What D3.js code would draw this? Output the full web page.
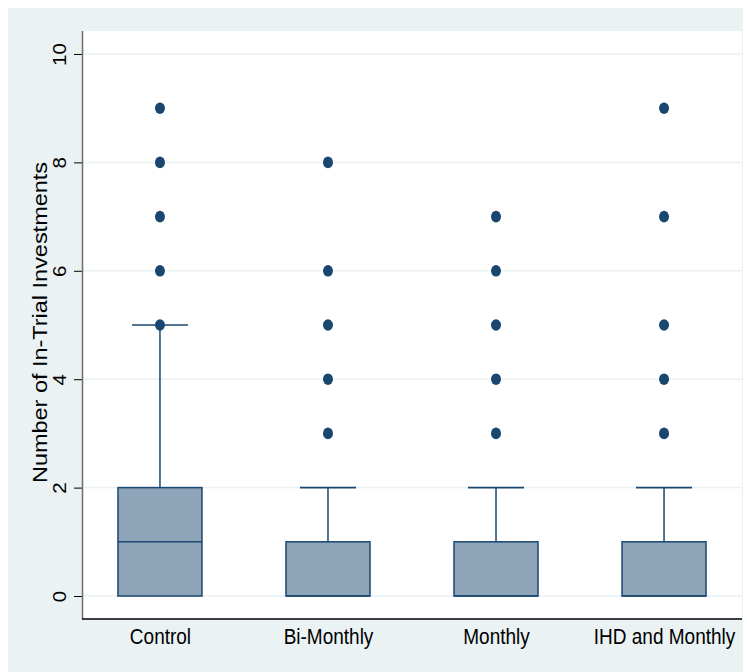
<!DOCTYPE html>
<html>
<head>
<meta charset="utf-8">
<script src="https://cdnjs.cloudflare.com/ajax/libs/d3/7.8.5/d3.min.js"></script>
<style>
  html, body { margin: 0; padding: 0; background: #ffffff; }
  svg { display: block; }
  text { font-family: "Liberation Sans", Arial, sans-serif; fill: #000; }
</style>
</head>
<body>
<svg id="chart" width="747" height="672"></svg>
<script>
// ---- data ----
const categories = ["Control", "Bi-Monthly", "Monthly", "IHD and Monthly"];
const q1Values = [0, 0, 0, 0];
const medianValues = [1, 0, 0, 0];
const q3Values = [2, 1, 1, 1];
const lowerWhisker = [0, 0, 0, 0];
const upperWhisker = [5, 2, 2, 2];
const outliers = [
  [5, 6, 7, 8, 9],
  [3, 4, 5, 6, 8],
  [3, 4, 5, 6, 7],
  [3, 4, 5, 7, 9]
];
const yTicks = [0, 2, 4, 6, 8, 10];
const yTitle = "Number of In-Trial Investments";

// ---- layout ----
const svg = d3.select("#chart");
const plot = { left: 82, right: 742, top: 31, bottom: 619 };
const navy = "#1a476f";
const boxFill = "#8ea4b9";
const bg = "#eaf2f3";

svg.append("rect").attr("x", 8).attr("y", 8).attr("width", 735).attr("height", 664).attr("fill", bg);
svg.append("rect").attr("x", plot.left).attr("y", plot.top)
  .attr("width", plot.right - plot.left).attr("height", plot.bottom - plot.top).attr("fill", "#fff");

const x = d3.scalePoint().domain(categories).range([plot.left, plot.right]).padding(0.464);
const y = d3.scaleLinear().domain([-0.424, 10.424]).range([plot.bottom, plot.top]);

// grid
svg.append("g").selectAll("line").data(yTicks).join("line")
  .attr("x1", plot.left).attr("x2", plot.right)
  .attr("y1", d => y(d)).attr("y2", d => y(d))
  .attr("stroke", bg).attr("stroke-width", 1.5);

// y axis
const yAxis = svg.append("g").attr("transform", `translate(${plot.left},0)`)
  .call(d3.axisLeft(y).tickValues(yTicks).tickSize(8).tickPadding(10).tickFormat(d3.format("d")));
yAxis.select(".domain").remove();
yAxis.selectAll(".tick line").attr("stroke", "#000").attr("stroke-width", 1);
yAxis.selectAll(".tick text")
  .attr("x", null).attr("dy", null)
  .attr("transform", "translate(-16,0) rotate(-90) scale(1.08,1)")
  .attr("text-anchor", "middle")
  .style("font-size", "19px")
  .style("font-family", "'Liberation Sans', Arial, sans-serif");
svg.append("line").attr("x1", plot.left + 0.5).attr("x2", plot.left + 0.5)
  .attr("y1", plot.top).attr("y2", plot.bottom).attr("stroke", "#6e6e6e").attr("stroke-width", 1.5);

// x axis
const xAxis = svg.append("g").attr("transform", `translate(0,${plot.bottom})`)
  .call(d3.axisBottom(x).tickSize(0).tickPadding(0));
xAxis.select(".domain").remove();
xAxis.selectAll(".tick text")
  .attr("y", null).attr("dy", null)
  .attr("transform", "translate(0,25) scale(1,1.15)")
  .style("font-size", "19px")
  .style("font-family", "'Liberation Sans', Arial, sans-serif");
svg.append("line").attr("x1", plot.left).attr("x2", plot.right)
  .attr("y1", plot.bottom).attr("y2", plot.bottom).attr("stroke", "#000").attr("stroke-width", 1.5);

// y title
svg.append("text")
  .attr("transform", `translate(47,${(162 + 483) / 2}) rotate(-90)`)
  .attr("text-anchor", "middle")
  .attr("textLength", 321).attr("lengthAdjust", "spacingAndGlyphs")
  .style("font-size", "20px")
  .text(yTitle);

// boxes
const boxW = 84, capW = 56;
const data = categories.map((c, i) => ({
  c, q1: q1Values[i], med: medianValues[i], q3: q3Values[i],
  lo: lowerWhisker[i], hi: upperWhisker[i], out: outliers[i]
}));
const g = svg.append("g");
data.forEach(d => {
  const cx = x(d.c);
  g.append("line").attr("x1", cx).attr("x2", cx).attr("y1", y(d.q3)).attr("y2", y(d.hi))
    .attr("stroke", navy).attr("stroke-width", 1.5);
  g.append("line").attr("x1", cx - capW / 2).attr("x2", cx + capW / 2).attr("y1", y(d.hi)).attr("y2", y(d.hi))
    .attr("stroke", navy).attr("stroke-width", 1.6);
  if (d.lo < d.q1) {
    g.append("line").attr("x1", cx).attr("x2", cx).attr("y1", y(d.q1)).attr("y2", y(d.lo))
      .attr("stroke", navy).attr("stroke-width", 1.5);
  }
  g.append("rect").attr("x", cx - boxW / 2).attr("y", y(d.q3))
    .attr("width", boxW).attr("height", y(d.q1) - y(d.q3))
    .attr("fill", boxFill).attr("stroke", navy).attr("stroke-width", 1.5);
  g.append("line").attr("x1", cx - boxW / 2).attr("x2", cx + boxW / 2).attr("y1", y(d.med)).attr("y2", y(d.med))
    .attr("stroke", navy).attr("stroke-width", 1.5);
  g.selectAll(null).data(d.out).join("ellipse")
    .attr("cx", cx).attr("cy", v => y(v)).attr("rx", 5).attr("ry", 5.8)
    .attr("fill", navy);
});
</script>
</body>
</html>
